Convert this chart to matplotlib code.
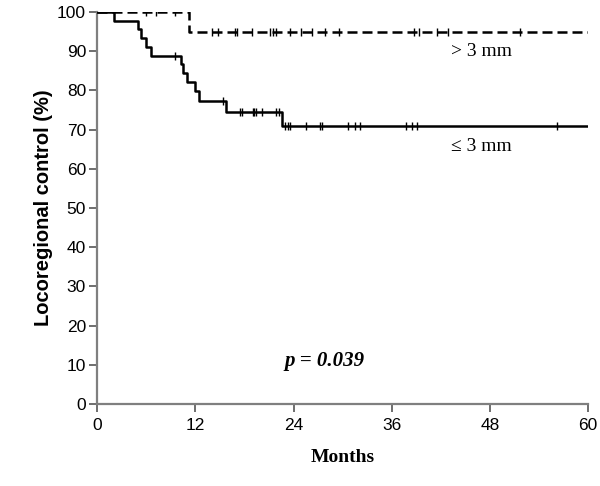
import matplotlib
matplotlib.use("Agg")
import matplotlib.pyplot as plt
import numpy as np

# Datos (Kaplan-Meier)
t_le3 = [0, 2.0, 5.0, 5.3, 6.0, 6.6, 10.2, 10.5, 11.0, 11.9, 12.5, 15.8, 22.6, 60]
s_le3 = [100, 97.8, 95.6, 93.3, 91.1, 88.9, 86.7, 84.4, 82.2, 79.9, 77.4, 74.6, 70.9, 70.9]
cens_le3 = [9.5, 15.4, 17.4, 17.7, 19.0, 19.2, 19.4, 20.1, 21.8, 22.2, 23.0, 23.3, 23.6,
            25.5, 27.2, 27.5, 30.7, 31.5, 32.1, 37.8, 38.5, 39.1, 56.2]

t_gt3 = [0, 11.2, 60]
s_gt3 = [100, 95.0, 95.0]
cens_gt3 = [6.0, 7.2, 9.5, 14.0, 14.8, 16.9, 17.1, 18.9, 21.1, 21.5, 21.8, 23.6, 24.9,
            26.2, 27.9, 29.5, 38.7, 39.3, 41.5, 42.9, 51.7]

x_ticks = [0, 12, 24, 36, 48, 60]
y_ticks = list(range(0, 101, 10))


def km_value(t, tiempos, surv):
    idx = np.searchsorted(tiempos, t, side='right') - 1
    return np.asarray(surv)[idx]


fig = plt.figure(figsize=(6, 4.86), dpi=100)
ax = fig.add_axes([0.162, 0.169, 0.818, 0.806])

gris = '#7f7f7f'

# Curva <= 3 mm (solida)
ax.step(t_le3, s_le3, where='post', color='black', lw=1.8, zorder=3)
ax.plot(cens_le3, km_value(cens_le3, t_le3, s_le3), ls='none', marker='|',
        ms=6, mew=1.0, color='black', zorder=4)

# Curva > 3 mm (discontinua)
ax.step(t_gt3, s_gt3, where='post', color='black', lw=1.8, ls=(0, (4, 2)), zorder=3)
ax.plot(cens_gt3, km_value(cens_gt3, t_gt3, s_gt3), ls='none', marker='|',
        ms=6, mew=1.0, color='black', zorder=4)

ax.set_xlim(0, 60)
ax.set_ylim(0, 100)
ax.set_xticks(x_ticks)
ax.set_yticks(y_ticks)

for lado in ['top', 'right']:
    ax.spines[lado].set_visible(False)
for lado in ['left', 'bottom']:
    ax.spines[lado].set_color(gris)
    ax.spines[lado].set_linewidth(1.6)

ax.tick_params(axis='both', direction='out', length=6, width=1.2, color='#555555',
               labelsize=12.5, pad=2)
ax.tick_params(axis='x', pad=4)
for lab in ax.get_xticklabels() + ax.get_yticklabels():
    lab.set_fontfamily('Liberation Sans')

ax.set_ylabel('Locoregional control (%)', fontsize=14.5, fontweight='bold',
              family='Liberation Sans', labelpad=3)
ax.set_xlabel('Months', fontsize=14, fontweight='bold', family='Liberation Serif',
              labelpad=12)

ax.text(47.0, 90.0, '> 3 mm', fontsize=14, family='Liberation Serif', ha='center', va='center')
ax.text(47.0, 65.8, '\u2264 3 mm', fontsize=14, family='Liberation Serif', ha='center', va='center')
ax.text(27.8, 11.0, 'p = 0.039', fontsize=15, family='Liberation Serif',
        fontweight='bold', fontstyle='italic', ha='center', va='center')

plt.savefig('out.png', dpi=100)
